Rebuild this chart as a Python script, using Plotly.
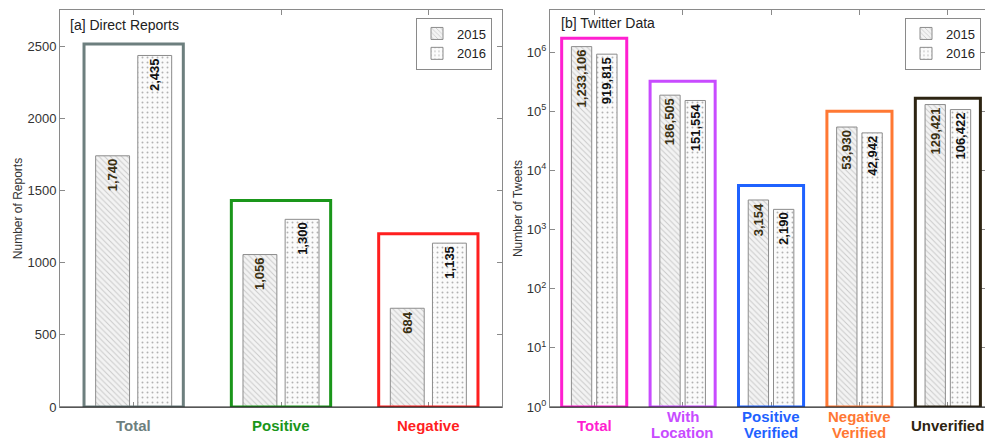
import plotly.graph_objects as go

years = ["2015", "2016"]

reports_categories = ["Total", "Positive", "Negative"]
reports_2015 = [1740, 1056, 684]
reports_2016 = [2435, 1300, 1135]
reports_box_top = [2515, 1430, 1200]
reports_colors = ["#6d7f7e", "#1a961a", "#ff1f1f"]
reports_ticks = [0, 500, 1000, 1500, 2000, 2500]

tweet_categories = ["Total", "With<br>Location", "Positive<br>Verified", "Negative<br>Verified", "Unverified"]
tweets_2015 = [1233106, 186505, 3154, 53930, 129421]
tweets_2016 = [919815, 151554, 2190, 42942, 106422]
tweets_box_top = [1.71e6, 3.21e5, 5560, 1.0e5, 1.66e5]
tweet_colors = ["#ff1fd0", "#c84bff", "#1f62ff", "#ff7833", "#2d2412"]
tweet_exponents = [0, 1, 2, 3, 4, 5, 6]

FONT = "Liberation Sans"
W, H = 985, 441
BAR_W = 0.23
OFF = [-0.258, 0.028]
patterns = [
    dict(shape="\\", fgcolor="#a0a0a0", bgcolor="#f3f3f3", size=4, solidity=0.25),
    dict(shape=".", fgcolor="#6a6a6a", bgcolor="#fbfbfb", size=5, solidity=0.12),
]
label_colors = ["#3a3012", "#111111"]

fig = go.Figure()

for i, (yr, vals) in enumerate(zip(years, [reports_2015, reports_2016])):
    fig.add_trace(go.Bar(
        x=reports_categories, y=vals, name=yr, width=BAR_W, offset=OFF[i],
        marker=dict(pattern=patterns[i], line=dict(color="#8c8c8c", width=1)),
        texttemplate="%{y:,}", textposition="inside", insidetextanchor="end",
        textangle=-90, constraintext="none",
        textfont=dict(family=FONT, size=13, color=label_colors[i], weight="bold"),
        xaxis="x", yaxis="y", legend="legend", hoverinfo="skip",
    ))
for i, (yr, vals) in enumerate(zip(years, [tweets_2015, tweets_2016])):
    fig.add_trace(go.Bar(
        x=tweet_categories, y=vals, name=yr, width=BAR_W, offset=OFF[i],
        marker=dict(pattern=patterns[i], line=dict(color="#8c8c8c", width=1)),
        texttemplate="%{y:,}", textposition="inside", insidetextanchor="end",
        textangle=-90, constraintext="none",
        textfont=dict(family=FONT, size=13, color=label_colors[i], weight="bold"),
        xaxis="x2", yaxis="y2", legend="legend2", hoverinfo="skip",
    ))

ydom = [1 - 407 / H, 1 - 10 / H]
axis_common = dict(showline=True, linecolor="#8a8a8a", linewidth=1, mirror="ticks",
                   ticks="inside", ticklen=5, tickcolor="#8a8a8a", showgrid=False,
                   zeroline=False, automargin=False,
                   tickfont=dict(family=FONT, size=13, color="#333333"))

legend_common = dict(yanchor="top", bordercolor="#8a8a8a", borderwidth=1, bgcolor="white",
                     font=dict(family=FONT, size=13, color="#222222"), tracegroupgap=0,
                     itemwidth=30)

fig.update_layout(
    width=W, height=H, margin=dict(l=0, r=0, t=0, b=0, autoexpand=False),
    paper_bgcolor="white", plot_bgcolor="white",
    font=dict(family=FONT, color="#333333"),
    barmode="overlay",
    xaxis=dict(domain=[60 / W, 502 / W], type="category", range=[-0.5, 2.5],
               showticklabels=False, **axis_common),
    yaxis=dict(domain=ydom, range=[0, 2750], tickvals=reports_ticks,
               title=dict(text="Number of Reports", font=dict(size=12, color="#333333"), standoff=2),
               **axis_common),
    xaxis2=dict(domain=[550 / W, 1.0], type="category", range=[-0.5, 4.42],
                showticklabels=False, anchor="y2", **axis_common),
    yaxis2=dict(domain=ydom, type="log", range=[0, 6.71], anchor="x2",
                tickvals=[10 ** e for e in tweet_exponents],
                ticktext=[f"10<sup>{e}</sup>" for e in tweet_exponents],
                title=dict(text="Number of Tweets", font=dict(size=12, color="#333333"), standoff=1),
                **axis_common),
    legend=dict(x=492 / W, y=1 - 17.5 / H, xanchor="right", **legend_common),
    legend2=dict(x=981 / W, y=1 - 17.5 / H, xanchor="right", **legend_common),
)

shapes = []
annotations = []


def add_label(xref, cat, col):
    lines = cat.split("<br>")
    if len(lines) == 1:
        ys = [425]
    else:
        ys = [416.5, 432.5]
    for line, ypix in zip(lines, ys):
        annotations.append(dict(x=cat, xref=xref, y=1 - ypix / H, yref="paper",
                                text=f"<b>{line}</b>", showarrow=False, yanchor="middle",
                                font=dict(family=FONT, size=15, color=col)))


for i, (cat, top, col) in enumerate(zip(reports_categories, reports_box_top, reports_colors)):
    shapes.append(dict(type="rect", xref="x", yref="y", x0=i - 0.337, x1=i + 0.337,
                       y0=0, y1=top, line=dict(color=col, width=3)))
    add_label("x", cat, col)
for i, (cat, top, col) in enumerate(zip(tweet_categories, tweets_box_top, tweet_colors)):
    shapes.append(dict(type="rect", xref="x2", yref="y2", x0=i - 0.368, x1=i + 0.368,
                       y0=1, y1=top, line=dict(color=col, width=3)))
    add_label("x2", cat, col)

# dark baselines
for xr, yr in [("x", "y"), ("x2", "y2")]:
    shapes.append(dict(type="line", xref=f"{xr} domain", yref=f"{yr} domain",
                       x0=0, x1=1, y0=0, y1=0, line=dict(color="#222222", width=1.2)))

annotations.append(dict(x=68 / W, y=1 - 24.5 / H, xref="paper", yref="paper",
                        text="[a] Direct Reports", showarrow=False, xanchor="left",
                        yanchor="middle", font=dict(family=FONT, size=14, color="#222222")))
annotations.append(dict(x=559 / W, y=1 - 23 / H, xref="paper", yref="paper",
                        text="[b] Twitter Data", showarrow=False, xanchor="left",
                        yanchor="middle", font=dict(family=FONT, size=14, color="#222222")))

fig.update_layout(shapes=shapes, annotations=annotations)
fig.write_html("out.html", config={"displayModeBar": False},
               post_script="document.body.style.margin='0';document.body.style.overflow='hidden';")
